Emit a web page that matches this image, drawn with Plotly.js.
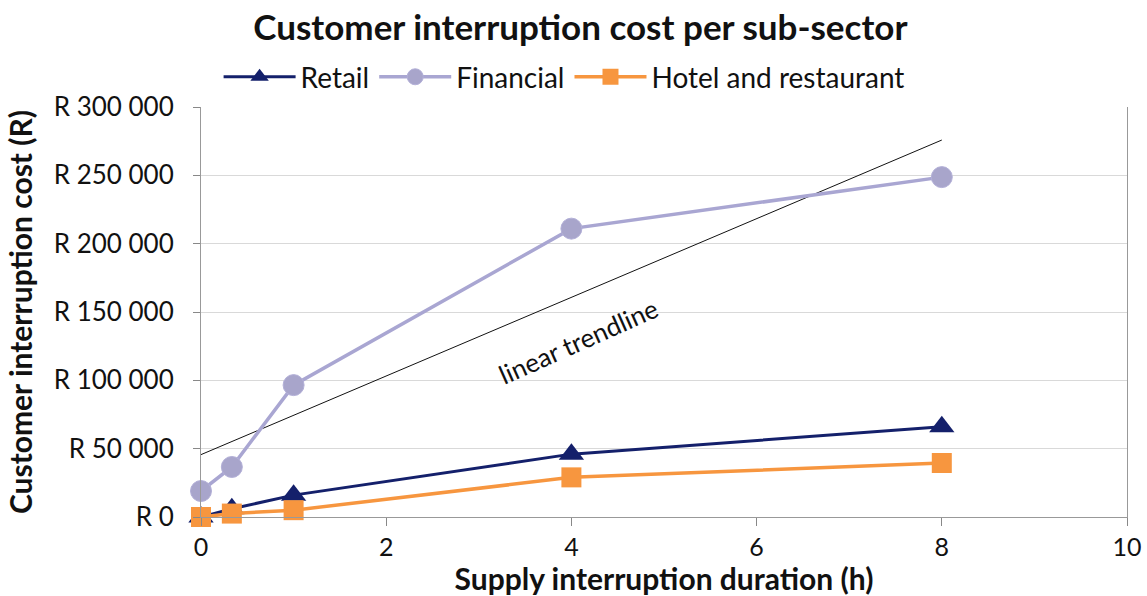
<!DOCTYPE html>
<html>
<head>
<meta charset="utf-8">
<script src="https://cdn.plot.ly/plotly-3.0.1.min.js"></script>
<style>html,body{margin:0;padding:0;background:#fff;}#chart{width:1147px;height:596px;}</style>
</head>
<body>
<div id="chart"></div>
<script>
const durations = [0, 0.333, 1, 4, 8];
const retail = [0, 6000, 16000, 46000, 66000];
const financial = [19000, 36600, 96500, 211000, 248700];
const hotel = [0, 2500, 5000, 29000, 39500];
const yTickVals = [0, 50000, 100000, 150000, 200000, 250000, 300000];
const yTickText = ["R 0", "R 50 000", "R 100 000", "R 150 000", "R 200 000", "R 250 000", "R 300 000"];
const xTickVals = [0, 2, 4, 6, 8, 10];

// linear trendline fitted to the Financial series
function fit(xs, ys) {
  const n = xs.length;
  const mx = xs.reduce((a, b) => a + b, 0) / n;
  const my = ys.reduce((a, b) => a + b, 0) / n;
  let sxx = 0, sxy = 0;
  for (let i = 0; i < n; i++) { sxx += (xs[i] - mx) ** 2; sxy += (xs[i] - mx) * (ys[i] - my); }
  const m = sxy / sxx;
  return { m: m, b: my - m * mx };
}
const f = fit(durations, financial);
const trendX = [durations[0], durations[durations.length - 1]];
const trendY = trendX.map(x => f.b + f.m * x);

const font = "Lato, 'Open Sans', sans-serif";

const traces = [
  { x: trendX, y: trendY, mode: 'lines', line: { color: '#111111', width: 1 }, showlegend: false, hoverinfo: 'skip' },
  { x: durations, y: retail, name: 'Retail', mode: 'lines+markers', cliponaxis: false,
    line: { color: '#14206b', width: 3 }, marker: { symbol: 'triangle-up', size: 22, color: '#14206b' } },
  { x: durations, y: financial, name: 'Financial', mode: 'lines+markers', cliponaxis: false,
    line: { color: '#a9a6d2', width: 3.5 }, marker: { symbol: 'circle', size: 21, color: '#a8a5cb', line: { color: '#b3b0d8', width: 1 } } },
  { x: durations, y: hotel, name: 'Hotel and restaurant', mode: 'lines+markers', cliponaxis: false,
    line: { color: '#f7963f', width: 3.5 }, marker: { symbol: 'square', size: 20, color: '#f7963f' } }
];

const layout = {
  width: 1147, height: 596,
  margin: { l: 201, r: 20, t: 107, b: 79 },
  paper_bgcolor: '#fff', plot_bgcolor: '#fff',
  font: { family: font, size: 26, color: '#111' },
  title: { text: '<b>Customer interruption cost per sub-sector</b>', font: { family: font, size: 35, color: '#111' }, x: 0.506, xanchor: 'center', y: 0.953, yanchor: 'middle' },
  showlegend: true,
  legend: { orientation: 'h', x: 0.019, xanchor: 'left', y: 1.073, yanchor: 'middle', font: { family: font, size: 28, color: '#111' }, itemwidth: 72, traceorder: 'normal', bgcolor: 'rgba(0,0,0,0)' },
  xaxis: {
    range: [0, 10], tickvals: xTickVals, ticks: 'outside', ticklen: 8, tickcolor: '#888', tickwidth: 1,
    showline: true, linecolor: '#999', linewidth: 1, showgrid: false, zeroline: false,
    tickfont: { family: font, size: 25, color: '#111' },
    title: { text: '<b>Supply interruption duration (h)</b>', font: { family: font, size: 30, color: '#111' }, standoff: 3 }
  },
  yaxis: {
    range: [0, 300000], tickvals: yTickVals, ticktext: yTickText, ticks: 'outside', ticklen: 7, tickcolor: '#888',
    ticklabelstandoff: 14,
    showline: true, linecolor: '#999', linewidth: 1, mirror: true, showgrid: true, gridcolor: '#d9d9d9', zeroline: false,
    tickfont: { family: font, size: 26, color: '#111' },
    title: { text: '<b>Customer interruption cost (R)</b>', font: { family: font, size: 30, color: '#111' }, standoff: 12 }
  },
  annotations: [
    { x: 4.08, y: 128500, xref: 'x', yref: 'y', text: 'linear trendline', showarrow: false, textangle: -24,
      font: { family: font, size: 26, color: '#111' } }
  ]
};

Plotly.newPlot('chart', traces, layout, { displayModeBar: false, staticPlot: true });
</script>
</body>
</html>
